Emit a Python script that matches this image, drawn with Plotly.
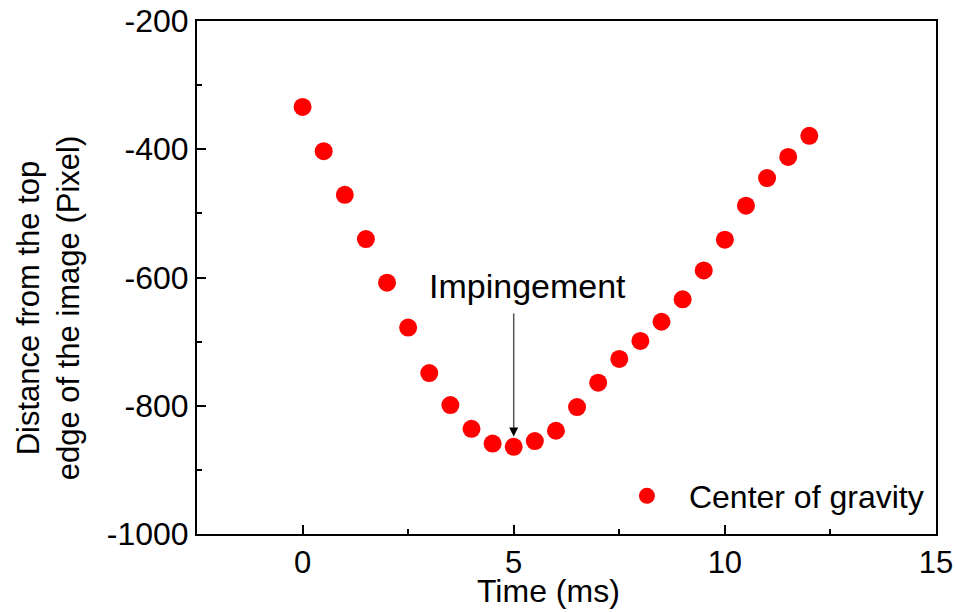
import plotly.graph_objects as go

# Centre-of-gravity trajectory of the droplet
time_ms = [0, 0.5, 1.0, 1.5, 2.0, 2.5, 3.0, 3.5, 4.0, 4.5, 5.0, 5.5, 6.0,
           6.5, 7.0, 7.5, 8.0, 8.5, 9.0, 9.5, 10.0, 10.5, 11.0, 11.5, 12.0]
distance_px = [-334, -403, -471, -540, -608, -678, -749, -799, -836, -859,
               -864, -855, -839, -802, -764, -727, -699, -669, -634, -589,
               -541, -488, -445, -412, -379]

series_name = "Center of gravity"
x_ticks = [0, 5, 10, 15]
x_ticklabels = ["0", "5", "10", "15"]
y_ticks = [-1000, -800, -600, -400, -200]
y_ticklabels = ["-1000", "-800", "-600", "-400", "-200"]

impact_time = 5.0
impact_label = "Impingement"

FONT = "Liberation Sans, Arial, sans-serif"

fig = go.Figure()
fig.add_trace(go.Scatter(
    x=time_ms, y=distance_px, mode="markers", name=series_name,
    marker=dict(color="#ff0000", size=18, line=dict(width=0)),
))

axis_common = dict(
    showgrid=False, zeroline=False, showline=True, linecolor="black",
    linewidth=2, mirror=True, ticks="inside", tickcolor="black",
    tickwidth=2, ticklen=9, automargin=False,
)

fig.update_xaxes(
    range=[-2.5, 15], tickvals=x_ticks, ticktext=x_ticklabels,
    tickfont=dict(family=FONT, size=31, color="black"),
    minor=dict(ticks="inside", ticklen=5, tickwidth=1.5, tickcolor="black",
               tickvals=[2.5, 7.5, 12.5]),
    **axis_common,
)
fig.update_yaxes(
    range=[-1000, -200], tickvals=y_ticks, ticktext=y_ticklabels,
    tickfont=dict(family=FONT, size=32, color="black"),
    minor=dict(ticks="inside", ticklen=5, tickwidth=1.5, tickcolor="black",
               tickvals=[-900, -700, -500, -300]),
    **axis_common,
)

# Arrow marking the moment of impingement
fig.add_shape(type="line", x0=impact_time, x1=impact_time, y0=-656, y1=-838,
              xref="x", yref="y", line=dict(color="#555555", width=1.5))
fig.add_annotation(x=impact_time, y=-848, ax=impact_time, ay=-836,
                   xref="x", yref="y", axref="x", ayref="y", text="",
                   showarrow=True, arrowhead=2, arrowsize=1.2, arrowwidth=1.5,
                   arrowcolor="black", standoff=0)
fig.add_annotation(x=5.33, y=-614, xref="x", yref="y", text=impact_label,
                   showarrow=False,
                   font=dict(family=FONT, size=34, color="black"))

# Axis titles
fig.add_annotation(x=0.475, y=0, xref="paper", yref="paper",
                   yshift=-77, yanchor="bottom",
                   text="Time (ms)", showarrow=False,
                   font=dict(family=FONT, size=32, color="black"))
fig.add_annotation(x=-0.255, y=0.44, xref="paper", yref="paper",
                   text="Distance from the top<br>edge of the image (Pixel)",
                   textangle=-90, showarrow=False, align="center",
                   font=dict(family=FONT, size=31, color="black"))

fig.update_layout(
    width=955, height=612,
    margin=dict(l=197, r=19, t=21, b=78),
    paper_bgcolor="white", plot_bgcolor="white",
    showlegend=True,
    legend=dict(x=0.552, y=0.074, xanchor="left", yanchor="middle",
                itemwidth=74, bgcolor="rgba(0,0,0,0)",
                font=dict(family=FONT, size=32, color="black")),
)

fig.write_html("out.html")
